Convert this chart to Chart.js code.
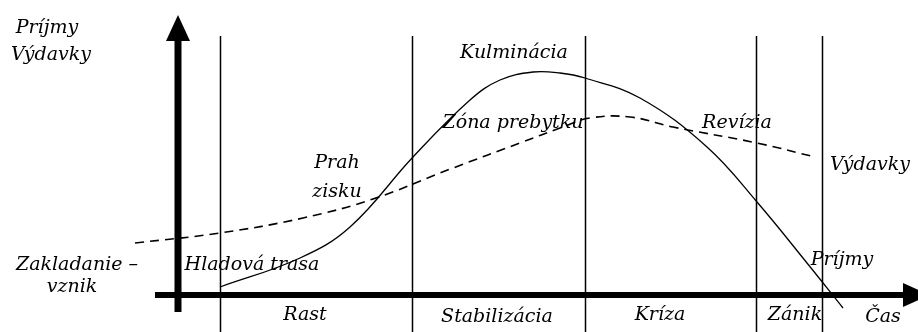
<!DOCTYPE html>
<html>
<head>
<meta charset="utf-8">
<script src="https://cdn.jsdelivr.net/npm/chart.js@4"></script>
<style>
    html, body { margin: 0; padding: 0; background: #fff; }
    #wrap { width: 918px; height: 332px; }
</style>
</head>
<body>
<div id="wrap"><canvas id="lifeChart" width="918" height="332"></canvas></div>
<script>
// time (x) and amount (y), origin where the two axes cross
const prijmyX = [42, 122, 172, 235, 292, 322, 355, 382, 407, 462, 529, 579, 629, 665];
const prijmyY = [8, 37, 68, 138, 195, 215, 223, 222, 217, 197, 148, 93, 32, -13];

const vydavkyX = [-43, 42, 125, 195, 275, 342, 382, 412, 452, 495, 579, 637];
const vydavkyY = [52, 62, 77, 96, 127, 152, 167, 177, 178, 168, 152, 138];

// phase boundaries on the time axis
const phaseBounds = [42, 234, 407, 578, 644];

// text labels: [text, centre x, centre y]
const labels = [
    ['Príjmy', -131, 267],
    ['Výdavky', -127, 240],
    ['Kulminácia', 336, 242],
    ['Zóna prebytku', 335, 172],
    ['Revízia', 559, 172],
    ['Výdavky', 692, 130],
    ['Prah', 159, 132],
    ['zisku', 159, 103],
    ['Zakladanie –', -101, 30],
    ['vznik', -106, 8],
    ['Hladová trasa', 74, 30],
    ['Rast', 127, -20],
    ['Stabilizácia', 319, -22],
    ['Kríza', 482, -20],
    ['Zánik', 617, -20],
    ['Čas', 705, -22],
    ['Príjmy', 664, 35]
];

const toPoints = (xs, ys) => xs.map((x, i) => ({ x, y: ys[i] }));

const diagramParts = {
    id: 'diagramParts',
    beforeDatasetsDraw(chart) {
        const { ctx, scales: { x, y } } = chart;
        ctx.save();
        ctx.strokeStyle = '#000';
        ctx.lineWidth = 1.5;
        phaseBounds.forEach(b => {
            const px = Math.round(x.getPixelForValue(b)) + 0.5;
            ctx.beginPath();
            ctx.moveTo(px, y.getPixelForValue(259));
            ctx.lineTo(px, chart.height);
            ctx.stroke();
        });
        ctx.restore();
    },
    afterDatasetsDraw(chart) {
        const { ctx, scales: { x, y } } = chart;
        const x0 = x.getPixelForValue(0);
        const y0 = y.getPixelForValue(0);
        ctx.save();
        ctx.fillStyle = '#000';
        ctx.strokeStyle = '#000';

        // vertical axis with arrow
        ctx.lineWidth = 7;
        ctx.beginPath();
        ctx.moveTo(x0, y.getPixelForValue(-17));
        ctx.lineTo(x0, y.getPixelForValue(256));
        ctx.stroke();
        ctx.beginPath();
        ctx.moveTo(x0, y.getPixelForValue(280));
        ctx.lineTo(x0 - 12, y.getPixelForValue(254));
        ctx.lineTo(x0 + 12, y.getPixelForValue(254));
        ctx.closePath();
        ctx.fill();

        // horizontal axis with arrow
        ctx.lineWidth = 6;
        ctx.beginPath();
        ctx.moveTo(x.getPixelForValue(-23), y0);
        ctx.lineTo(x.getPixelForValue(727), y0);
        ctx.stroke();
        ctx.beginPath();
        ctx.moveTo(x.getPixelForValue(752), y0);
        ctx.lineTo(x.getPixelForValue(725), y0 - 12);
        ctx.lineTo(x.getPixelForValue(725), y0 + 12);
        ctx.closePath();
        ctx.fill();

        ctx.font = 'italic 19px "DejaVu Serif"';
        ctx.textAlign = 'center';
        ctx.textBaseline = 'middle';
        labels.forEach(([t, lx, ly]) => {
            ctx.fillText(t, x.getPixelForValue(lx), y.getPixelForValue(ly));
        });
        ctx.restore();
    }
};

new Chart(document.getElementById('lifeChart'), {
    type: 'line',
    data: {
        datasets: [
            {
                label: 'Príjmy',
                data: toPoints(prijmyX, prijmyY),
                borderColor: '#000',
                borderWidth: 1.3,
                pointRadius: 0,
                tension: 0.4,
                fill: false
            },
            {
                label: 'Výdavky',
                data: toPoints(vydavkyX, vydavkyY),
                borderColor: '#000',
                borderWidth: 1.6,
                borderDash: [9, 6],
                pointRadius: 0,
                tension: 0.4,
                fill: false
            }
        ]
    },
    options: {
        responsive: false,
        animation: false,
        layout: { padding: 0 },
        plugins: { legend: { display: false }, tooltip: { enabled: false } },
        scales: {
            x: { type: 'linear', min: -178, max: 740, display: false },
            y: { type: 'linear', min: -37, max: 295, display: false }
        }
    },
    plugins: [diagramParts]
});
</script>
</body>
</html>
